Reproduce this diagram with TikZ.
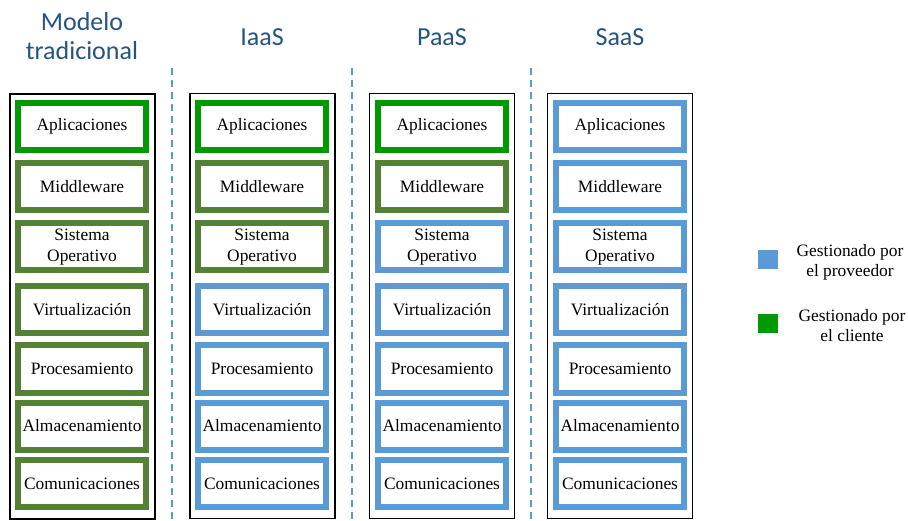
\documentclass[tikz,border=0pt]{standalone}
\usepackage{fontspec}
\setmainfont{Liberation Serif}
\newfontfamily\titlefont{Carlito}
\begin{document}
\begin{tikzpicture}[x=1pt,y=-1pt,
  every node/.style={inner sep=0pt},
  column/.style={draw=black, line width=1.2pt, fill=white, minimum width=145pt, minimum height=425pt},
  layer/.style={draw, line width=6pt, fill=white, minimum width=128pt, minimum height=47pt,
    align=center, font=\fontsize{17.4}{21}\selectfont},
  appgreen/.style={layer, draw=AppGreen},
  client/.style={layer, draw=ClientGreen},
  provider/.style={layer, draw=ProvBlue},
  heading/.style={font=\titlefont\fontsize{26}{30}\selectfont, text=TitleBlue, anchor=base},
  separator/.style={draw=ProvBlue, line width=1.3pt, dash pattern=on 7pt off 5pt},
  swatch/.style={minimum width=20pt, minimum height=19pt},
  legendtext/.style={align=center, font=\fontsize{17.4}{20}\selectfont}
]
\definecolor{AppGreen}{RGB}{0,153,0}
\definecolor{ClientGreen}{RGB}{83,129,53}
\definecolor{ProvBlue}{RGB}{91,155,213}
\definecolor{TitleBlue}{RGB}{38,84,128}

\useasboundingbox[fill=white] (0,0) rectangle (908,521);

% column headings
\node[heading] (h1a) at (82,30.5) {Modelo};
\node[heading] (h1b) at (82,60) {tradicional};
\node[heading] (h2) at (262,46) {IaaS};
\node[heading] (h3) at (442,46) {PaaS};
\node[heading] (h4) at (620,46) {SaaS};

% dashed separators between the models
\coordinate (s1t) at (172,68); \coordinate (s1b) at (172,521);
\coordinate (s2t) at (352,68); \coordinate (s2b) at (352,521);
\coordinate (s3t) at (531,68); \coordinate (s3b) at (531,521);
\draw[separator] (s1t) -- (s1b);
\draw[separator] (s2t) -- (s2b);
\draw[separator] (s3t) -- (s3b);

% outer frames
\node[column] (col1) at (82.5,306.5) {};
\node[column] (col2) at (262.5,306) {};
\node[column] (col3) at (442,306) {};
\node[column] (col4) at (620,306) {};

% layer rows: y centres
\def\ya{126.5}\def\yb{186.5}\def\yc{247}\def\yd{310}\def\ye{369}\def\yf{426}\def\yg{483.5}

% Modelo tradicional
\node[appgreen] (m1) at (82,\ya) {Aplicaciones};
\node[client] (m2) at (82,\yb) {Middleware};
\node[client] (m3) at (82,\yc) {Sistema\\Operativo};
\node[client] (m4) at (82,\yd) {Virtualización};
\node[client] (m5) at (82,\ye) {Procesamiento};
\node[client] (m6) at (82,\yf) {Almacenamiento};
\node[client] (m7) at (82,\yg) {Comunicaciones};

% IaaS
\node[appgreen] (i1) at (262,\ya) {Aplicaciones};
\node[client] (i2) at (262,\yb) {Middleware};
\node[client] (i3) at (262,\yc) {Sistema\\Operativo};
\node[provider] (i4) at (262,\yd) {Virtualización};
\node[provider] (i5) at (262,\ye) {Procesamiento};
\node[provider] (i6) at (262,\yf) {Almacenamiento};
\node[provider] (i7) at (262,\yg) {Comunicaciones};

% PaaS
\node[appgreen] (p1) at (442,\ya) {Aplicaciones};
\node[client] (p2) at (442,\yb) {Middleware};
\node[provider] (p3) at (442,\yc) {Sistema\\Operativo};
\node[provider] (p4) at (442,\yd) {Virtualización};
\node[provider] (p5) at (442,\ye) {Procesamiento};
\node[provider] (p6) at (442,\yf) {Almacenamiento};
\node[provider] (p7) at (442,\yg) {Comunicaciones};

% SaaS
\node[provider] (s1) at (620,\ya) {Aplicaciones};
\node[provider] (s2) at (620,\yb) {Middleware};
\node[provider] (s3) at (620,\yc) {Sistema\\Operativo};
\node[provider] (s4) at (620,\yd) {Virtualización};
\node[provider] (s5) at (620,\ye) {Procesamiento};
\node[provider] (s6) at (620,\yf) {Almacenamiento};
\node[provider] (s7) at (620,\yg) {Comunicaciones};

% legend
\node[swatch, fill=ProvBlue] (lp) at (768,260) {};
\node[legendtext] (lpt) at (850,262) {Gestionado por\\el proveedor};
\node[swatch, fill=AppGreen] (lc) at (768,323.5) {};
\node[legendtext] (lct) at (852,326) {Gestionado por\\el cliente};
\end{tikzpicture}
\end{document}
